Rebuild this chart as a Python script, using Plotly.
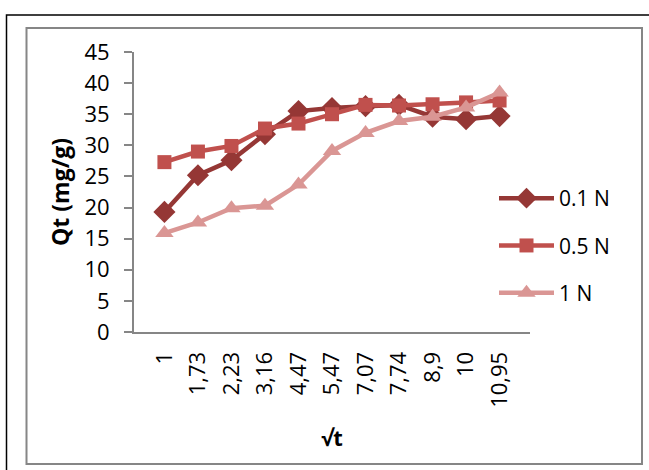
import plotly.graph_objects as go

categories = ["1", "1,73", "2,23", "3,16", "4,47", "5,47", "7,07", "7,74", "8,9", "10", "10,95"]
s01 = [19.3, 25.2, 27.6, 31.8, 35.5, 36.0, 36.3, 36.5, 34.6, 34.2, 34.7]
s05 = [27.3, 29.0, 29.9, 32.7, 33.5, 35.0, 36.5, 36.4, 36.6, 36.9, 37.2]
s1 = [15.9, 17.6, 19.9, 20.3, 23.7, 29.1, 32.0, 33.9, 34.6, 36.1, 38.5]
names = ["0.1 N", "0.5 N", "1 N"]
colors = ["#953735", "#C0504D", "#DA9694"]
symbols = ["diamond", "square", "triangle-up"]
sizes = [17, 14, 16]

FONT = "Open Sans"
fig = go.Figure()
for i, ys in enumerate([s01, s05, s1]):
    fig.add_trace(go.Scatter(
        x=categories, y=ys, name=names[i], mode="lines+markers",
        line=dict(color=colors[i], width=4.5),
        marker=dict(symbol=symbols[i], size=sizes[i], color=colors[i]),
        legendgroup=names[i],
    ))

L, R, T, B = 134, 119, 52, 138
W, H = 649, 470
pw, ph = W - L - R, H - T - B
def px(x): return (x - L) / pw
def py(y): return (H - B - y) / ph

fig.update_layout(
    width=W, height=H,
    margin=dict(l=L, r=R, t=T, b=B),
    paper_bgcolor="white", plot_bgcolor="white",
    font=dict(family=FONT, size=22, color="black"),
    showlegend=True,
    legend=dict(x=px(494), y=py(178), xanchor="left", yanchor="top",
                font=dict(size=21, family=FONT), tracegroupgap=17,
                itemwidth=55, bgcolor="rgba(0,0,0,0)"),
    xaxis=dict(type="category", showline=True, linecolor="#868686", linewidth=2,
               ticks="", tickangle=-90, tickfont=dict(size=22, family=FONT),
               ticklabelstandoff=9,
               showgrid=False, zeroline=False,
               title=dict(text="<b>√t</b>", font=dict(size=22, family=FONT), standoff=24)),
    yaxis=dict(range=[0, 45], dtick=5, showline=True, linecolor="#868686", linewidth=2,
               ticks="outside", ticklen=8, tickcolor="#868686", tickwidth=1.5,
               ticklabelstandoff=10,
               tickfont=dict(size=22, family=FONT), showgrid=False, zeroline=False,
               title=dict(text="<b>Qt (mg/g)</b>", font=dict(size=23, family=FONT), standoff=8)),
    shapes=[
        dict(type="rect", xref="paper", yref="paper",
             x0=px(6.5), x1=px(660), y0=py(480), y1=py(15),
             line=dict(color="black", width=1.5)),
        dict(type="rect", xref="paper", yref="paper",
             x0=px(26.5), x1=px(642), y0=py(464), y1=py(28),
             line=dict(color="#868686", width=2)),
    ],
)
fig.write_html("out.html")
